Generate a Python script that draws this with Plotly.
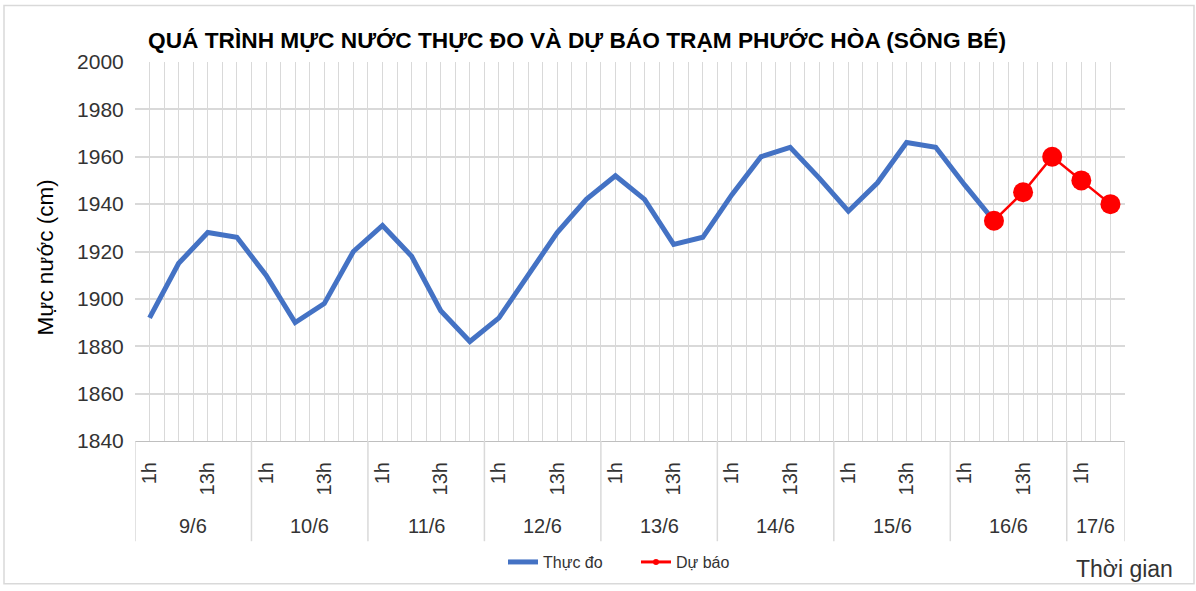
import plotly.graph_objects as go

# ---- data ----
days = ["9/6", "10/6", "11/6", "12/6", "13/6", "14/6", "15/6", "16/6", "17/6"]
hours = ["1h", "7h", "13h", "19h"]
shown_hours = ["1h", "13h"]
last_day_count = 2  # 17/6 has only 1h and 7h

observed = [1892, 1915, 1928, 1926,
            1910, 1890, 1898, 1920,
            1931, 1918, 1895, 1882,
            1892, 1910, 1928, 1942,
            1952, 1942, 1923, 1926,
            1944, 1960, 1964, 1951,
            1937, 1949, 1966, 1964,
            1948, 1933]
forecast = [1933, 1945, 1960, 1950, 1940]
forecast_start = 29

y_ticks = [1840, 1860, 1880, 1900, 1920, 1940, 1960, 1980, 2000]

title = "QUÁ TRÌNH MỰC NƯỚC THỰC ĐO VÀ DỰ BÁO TRẠM PHƯỚC HÒA (SÔNG BÉ)"
y_title = "Mực nước (cm)"
x_title = "Thời gian"
name_obs = "Thực đo"
name_fc = "Dự báo"

# ---- build categories ----
categories = []
day_spans = []
for i, d in enumerate(days):
    hs = hours if i < len(days) - 1 else hours[:last_day_count]
    start = len(categories)
    for h in hs:
        categories.append((d, h))
    day_spans.append((d, start, len(categories)))
n = len(categories)

x_obs = list(range(len(observed)))
x_fc = list(range(forecast_start, forecast_start + len(forecast)))

tick_vals = [i for i, (d, h) in enumerate(categories) if h in shown_hours]
tick_text = [categories[i][1] for i in tick_vals]

FONT = "Liberation Sans"
GRID = "#d9d9d9"
TXT = "#333333"

fig = go.Figure()
fig.add_trace(go.Scatter(x=x_obs, y=observed, mode="lines", name=name_obs,
                         line=dict(color="#4472C4", width=5)))
fig.add_trace(go.Scatter(x=x_fc, y=forecast, mode="lines+markers", name=name_fc,
                         line=dict(color="#FF0000", width=2.5),
                         marker=dict(color="#FF0000", size=20), showlegend=False))
# legend entry for forecast (small marker as in the original legend)
fig.add_trace(go.Scatter(x=[None], y=[None], mode="lines+markers", name=name_fc,
                         line=dict(color="#FF0000", width=3),
                         marker=dict(color="#FF0000", size=6)))

plot_h = 591 - 62 - 147

fig.update_layout(
    width=1196, height=591,
    margin=dict(l=135, r=71, t=62, b=147),
    paper_bgcolor="white", plot_bgcolor="white",
    font=dict(family=FONT, color=TXT),
    title=dict(text="<b>" + title + "</b>", x=577 / 1196, xanchor="center",
               y=1 - 40 / 591, yanchor="middle",
               font=dict(family=FONT, size=22.7, color="#000000")),
    showlegend=True,
    legend=dict(orientation="h", x=(636 - 135) / 990, xanchor="center",
                y=-(566 - 444) / plot_h, yanchor="middle",
                entrywidth=88, entrywidthmode="pixels",
                font=dict(size=16, color=TXT), bgcolor="rgba(0,0,0,0)"),
    xaxis=dict(
        range=[-0.5, n - 0.5],
        tickmode="array", tickvals=tick_vals, ticktext=tick_text,
        tickangle=-90, ticks="outside", ticklen=12, tickcolor="rgba(0,0,0,0)",
        tickfont=dict(size=20, color=TXT),
        showgrid=False, zeroline=False,
        showline=True, linecolor="#bfbfbf", linewidth=1,
        minor=dict(tickmode="linear", tick0=-0.5, dtick=0.5, showgrid=True,
                   gridcolor=GRID, gridwidth=1, ticks=""),
    ),
    yaxis=dict(
        range=[1840, 2000], tickmode="array", tickvals=y_ticks,
        tickfont=dict(size=21, color=TXT),
        showgrid=True, gridcolor=GRID, gridwidth=1.5, zeroline=False,
        showline=False, ticks="outside", ticklen=6, tickcolor="rgba(0,0,0,0)",
    ),
)

# y-axis title
fig.add_annotation(text=y_title, xref="paper", yref="paper",
                   x=(45 - 135) / 990, y=(444 - 259) / plot_h, textangle=-90,
                   showarrow=False, xanchor="center", yanchor="middle",
                   font=dict(family=FONT, size=22.5, color="#000000"))

# day labels and separators
sep_bottom = -(545 - 444) / plot_h
for d, s, e in day_spans:
    fig.add_annotation(text=d, xref="x", yref="paper", x=(s + e - 1) / 2,
                       y=-(530 - 444) / plot_h, showarrow=False,
                       xanchor="center", yanchor="middle",
                       font=dict(family=FONT, size=20, color=TXT))
    fig.add_shape(type="line", xref="x", yref="paper", x0=s - 0.5, x1=s - 0.5,
                  y0=0, y1=sep_bottom, line=dict(color=GRID, width=1.5))
fig.add_shape(type="line", xref="x", yref="paper", x0=n - 0.5, x1=n - 0.5,
              y0=0, y1=sep_bottom, line=dict(color=GRID, width=1.5))

# x-axis title
fig.add_annotation(text=x_title, xref="paper", yref="paper", x=(1124 - 135) / 990,
                   y=-(573 - 444) / plot_h, showarrow=False,
                   xanchor="center", yanchor="middle",
                   font=dict(family=FONT, size=23, color=TXT))

# chart border
fig.add_shape(type="rect", xref="paper", yref="paper",
              x0=-131 / 990, x1=(1194 - 135) / 990,
              y0=-(588 - 444) / plot_h, y1=(444 - 5) / plot_h,
              line=dict(color=GRID, width=1.5))

fig.write_html("out.html", config={"displayModeBar": False},
               post_script="document.body.style.margin='0';document.body.style.overflow='hidden';")
